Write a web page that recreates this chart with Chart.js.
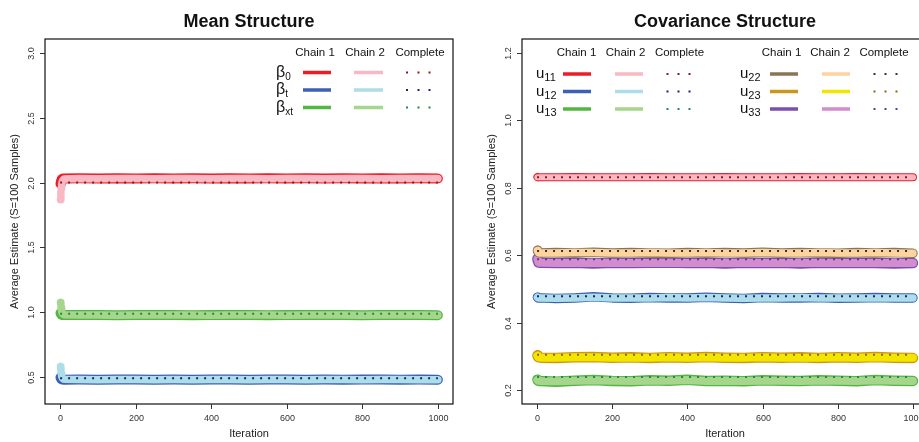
<!DOCTYPE html>
<html>
<head>
<meta charset="utf-8">
<script src="https://cdn.jsdelivr.net/npm/chart.js@4.4.1/dist/chart.umd.min.js"></script>
<style>
  html, body { margin: 0; padding: 0; background: #fff; overflow: hidden; width: 919px; height: 442px; }
  #meanChart { position: absolute; left: 0; top: 0; }
  #covChart { position: absolute; left: 460px; top: 0; }
</style>
</head>
<body>
<canvas id="meanChart" width="460" height="442"></canvas>
<canvas id="covChart" width="480" height="442"></canvas>
<script>
var iterations = [1, 2, 3, 4, 6, 10, 50, 100, 150, 200, 250, 300, 350, 400, 450, 500, 550, 600, 650, 700, 750, 800, 850, 900, 950, 1000];

// mean structure, two chains + complete-data estimate
var beta0Chain1 = [1.990, 2.004, 2.016, 2.024, 2.029, 2.031, 2.032, 2.031, 2.033, 2.031, 2.032, 2.030, 2.032, 2.031, 2.033, 2.031, 2.032, 2.030, 2.032, 2.031, 2.032, 2.031, 2.033, 2.031, 2.032, 2.031];
var beta0Chain2 = [1.867, 1.920, 1.955, 1.985, 2.012, 2.027, 2.030, 2.029, 2.031, 2.030, 2.029, 2.031, 2.030, 2.029, 2.031, 2.030, 2.029, 2.031, 2.030, 2.029, 2.031, 2.030, 2.029, 2.031, 2.030, 2.030];
var betaTChain1 = [0.500, 0.494, 0.489, 0.486, 0.484, 0.483, 0.484, 0.483, 0.484, 0.485, 0.483, 0.484, 0.483, 0.485, 0.484, 0.483, 0.484, 0.485, 0.483, 0.484, 0.483, 0.484, 0.485, 0.483, 0.484, 0.483];
var betaTChain2 = [0.585, 0.560, 0.532, 0.512, 0.496, 0.487, 0.484, 0.483, 0.485, 0.484, 0.482, 0.484, 0.483, 0.484, 0.485, 0.483, 0.484, 0.484, 0.483, 0.485, 0.484, 0.483, 0.484, 0.484, 0.483, 0.483];
var betaXtChain1 = [0.995, 0.990, 0.986, 0.983, 0.981, 0.980, 0.981, 0.980, 0.979, 0.981, 0.980, 0.981, 0.979, 0.980, 0.981, 0.980, 0.979, 0.981, 0.980, 0.980, 0.981, 0.979, 0.980, 0.981, 0.980, 0.979];
var betaXtChain2 = [1.077, 1.058, 1.035, 1.012, 0.993, 0.983, 0.980, 0.981, 0.979, 0.980, 0.981, 0.980, 0.980, 0.979, 0.981, 0.980, 0.981, 0.979, 0.980, 0.981, 0.980, 0.979, 0.981, 0.980, 0.980, 0.979];
var meanComplete = [2.000, 0.495, 0.990];   // beta0, betaT, betaXt

// covariance structure
var u11Chain1 = [0.832, 0.831, 0.831, 0.831, 0.831, 0.831, 0.831, 0.832, 0.831, 0.831, 0.831, 0.832, 0.831, 0.831, 0.831, 0.832, 0.831, 0.831, 0.831, 0.832, 0.831, 0.831, 0.832, 0.831, 0.831, 0.831];
var u11Chain2 = [0.831, 0.831, 0.831, 0.831, 0.831, 0.831, 0.831, 0.831, 0.831, 0.831, 0.831, 0.831, 0.831, 0.831, 0.831, 0.831, 0.831, 0.831, 0.831, 0.831, 0.831, 0.831, 0.831, 0.831, 0.831, 0.831];
var u12Chain1 = [0.476, 0.475, 0.474, 0.474, 0.474, 0.474, 0.472, 0.474, 0.477, 0.474, 0.473, 0.475, 0.474, 0.474, 0.476, 0.474, 0.472, 0.475, 0.474, 0.474, 0.475, 0.473, 0.474, 0.475, 0.474, 0.474];
var u12Chain2 = [0.476, 0.475, 0.475, 0.474, 0.474, 0.474, 0.473, 0.474, 0.476, 0.474, 0.474, 0.474, 0.475, 0.474, 0.475, 0.474, 0.473, 0.474, 0.474, 0.475, 0.474, 0.474, 0.474, 0.474, 0.474, 0.474];
var u13Chain1 = [0.232, 0.230, 0.229, 0.229, 0.228, 0.228, 0.226, 0.229, 0.231, 0.228, 0.227, 0.230, 0.229, 0.232, 0.228, 0.229, 0.227, 0.230, 0.229, 0.228, 0.230, 0.229, 0.227, 0.231, 0.229, 0.228];
var u13Chain2 = [0.231, 0.230, 0.229, 0.229, 0.229, 0.228, 0.227, 0.229, 0.230, 0.229, 0.228, 0.229, 0.229, 0.231, 0.228, 0.229, 0.228, 0.229, 0.229, 0.228, 0.229, 0.229, 0.228, 0.230, 0.229, 0.228];
var u22Chain1 = [0.615, 0.611, 0.609, 0.608, 0.608, 0.607, 0.608, 0.607, 0.609, 0.607, 0.608, 0.607, 0.606, 0.608, 0.607, 0.608, 0.607, 0.609, 0.607, 0.608, 0.607, 0.606, 0.608, 0.607, 0.608, 0.606];
var u22Chain2 = [0.614, 0.611, 0.609, 0.608, 0.607, 0.607, 0.607, 0.608, 0.608, 0.607, 0.607, 0.608, 0.607, 0.607, 0.608, 0.607, 0.607, 0.608, 0.607, 0.607, 0.608, 0.607, 0.607, 0.608, 0.607, 0.606];
var u23Chain1 = [0.304, 0.301, 0.299, 0.298, 0.298, 0.297, 0.296, 0.298, 0.299, 0.297, 0.298, 0.296, 0.298, 0.297, 0.299, 0.297, 0.296, 0.298, 0.297, 0.298, 0.296, 0.298, 0.297, 0.299, 0.297, 0.296];
var u23Chain2 = [0.303, 0.301, 0.299, 0.298, 0.298, 0.297, 0.297, 0.298, 0.298, 0.297, 0.297, 0.297, 0.298, 0.297, 0.298, 0.297, 0.297, 0.298, 0.297, 0.297, 0.297, 0.298, 0.297, 0.298, 0.297, 0.297];
var u33Chain1 = [0.590, 0.584, 0.581, 0.579, 0.578, 0.578, 0.577, 0.578, 0.576, 0.578, 0.577, 0.578, 0.579, 0.577, 0.578, 0.576, 0.578, 0.577, 0.578, 0.576, 0.578, 0.577, 0.578, 0.577, 0.576, 0.577];
var u33Chain2 = [0.589, 0.584, 0.581, 0.579, 0.578, 0.578, 0.577, 0.577, 0.577, 0.578, 0.577, 0.577, 0.578, 0.577, 0.577, 0.577, 0.578, 0.577, 0.577, 0.577, 0.578, 0.577, 0.577, 0.577, 0.577, 0.577];
var covComplete = [0.831, 0.479, 0.240, 0.613, 0.306, 0.588];   // u11, u12, u13, u22, u23, u33

// axis ticks
var iterTicks = [0, 200, 400, 600, 800, 1000];
var meanTicks = ['0.5', '1.0', '1.5', '2.0', '2.5', '3.0'];
var covTicks = ['0.2', '0.4', '0.6', '0.8', '1.0', '1.2'];

var FONT = '"Liberation Sans", Arial, Helvetica, sans-serif';

function trace(values, color, width, order) {
    return {
        data: iterations.map(function (it, i) { return { x: it, y: values[i] }; }),
        borderColor: color,
        borderWidth: width,
        borderCapStyle: 'round',
        borderJoinStyle: 'round',
        pointRadius: 0,
        tension: 0,
        fill: false,
        order: order
    };
}

function completeLine(value, color, order) {
    return {
        data: [{ x: 0, y: value }, { x: 1000, y: value }],
        borderColor: color,
        borderWidth: 2,
        borderDash: [2, 6],
        borderCapStyle: 'butt',
        pointRadius: 0,
        fill: false,
        order: order
    };
}

// stack: list of [chain1, chain2, complete, colours, widths], bottom to top
function buildDatasets(stack) {
    var out = [];
    stack.forEach(function (s) {
        out.push(trace(s[0], s[3][0], s[4][0], -out.length));
        out.push(trace(s[1], s[3][1], s[4][1], -out.length));
        out.push(completeLine(s[2], s[3][2], -out.length));
    });
    return out;
}

function drawSymbol(ctx, x, y, sym, sub, symSize, subSize) {
    ctx.fillStyle = '#111';
    ctx.textAlign = 'left';
    ctx.textBaseline = 'alphabetic';
    ctx.font = symSize + 'px ' + FONT;
    ctx.fillText(sym, x, y);
    var w = ctx.measureText(sym).width;
    ctx.font = subSize + 'px ' + FONT;
    ctx.fillText(sub, x + w, y + 3);
}

// R-style frame: box, outward ticks, vertical y labels, titles and the legend
var rFrame = {
    id: 'rFrame',
    afterDraw: function (chart, args, o) {
        var ctx = chart.ctx, a = chart.chartArea;
        var xs = chart.scales.x, ys = chart.scales.y;
        ctx.save();

        ctx.strokeStyle = '#111';
        ctx.lineWidth = 1.2;
        ctx.strokeRect(a.left, a.top, a.right - a.left, a.bottom - a.top);

        ctx.strokeStyle = '#333';
        ctx.lineWidth = 1;
        ctx.fillStyle = '#333';
        ctx.font = '9px ' + FONT;
        iterTicks.forEach(function (t) {
            var px = Math.round(xs.getPixelForValue(t)) + 0.5;
            ctx.beginPath();
            ctx.moveTo(px, a.bottom);
            ctx.lineTo(px, a.bottom + 5);
            ctx.stroke();
            ctx.textAlign = 'center';
            ctx.textBaseline = 'middle';
            ctx.fillText(String(t), px, 419);
        });
        o.yTicks.forEach(function (t) {
            var py = Math.round(ys.getPixelForValue(parseFloat(t))) + 0.5;
            ctx.beginPath();
            ctx.moveTo(a.left, py);
            ctx.lineTo(a.left - 5, py);
            ctx.stroke();
            ctx.save();
            ctx.translate(a.left - 13, py);
            ctx.rotate(-Math.PI / 2);
            ctx.textAlign = 'center';
            ctx.textBaseline = 'middle';
            ctx.fillText(t, 0, 0);
            ctx.restore();
        });

        var cx = (a.left + a.right) / 2;
        ctx.fillStyle = '#111';
        ctx.textAlign = 'center';
        ctx.textBaseline = 'middle';
        ctx.font = 'bold 18px ' + FONT;
        ctx.fillText(o.title, cx, 22);
        ctx.font = '11px ' + FONT;
        ctx.fillStyle = '#222';
        ctx.fillText('Iteration', cx, 434);
        ctx.save();
        ctx.translate(a.left - 30, (a.top + a.bottom) / 2);
        ctx.rotate(-Math.PI / 2);
        ctx.fillText('Average Estimate (S=100 Samples)', 0, 0);
        ctx.restore();

        // legend
        ctx.font = '11.5px ' + FONT;
        ctx.fillStyle = '#111';
        o.legend.headers.forEach(function (h) {
            ctx.textAlign = 'center';
            ctx.textBaseline = 'middle';
            ctx.fillText(h[0], h[1], 52.5);
        });
        o.legend.rows.forEach(function (r) {
            drawSymbol(ctx, r.x, r.y + 4, r.sym, r.sub, o.legend.symSize, o.legend.subSize);
            ctx.lineCap = 'butt';
            ctx.lineWidth = 3.5;
            ctx.strokeStyle = r.colors[0];
            ctx.beginPath(); ctx.moveTo(r.l1[0], r.y); ctx.lineTo(r.l1[1], r.y); ctx.stroke();
            ctx.strokeStyle = r.colors[1];
            ctx.beginPath(); ctx.moveTo(r.l2[0], r.y); ctx.lineTo(r.l2[1], r.y); ctx.stroke();
            ctx.fillStyle = r.colors[2];
            r.dots.forEach(function (d) { ctx.fillRect(d - 1, r.y - 1, 2, 2); });
        });
        ctx.restore();
    }
};

function makeChart(id, datasets, yMin, yMax, pad, frame) {
    return new Chart(document.getElementById(id), {
        type: 'line',
        data: { datasets: datasets },
        options: {
            responsive: false,
            animation: false,
            devicePixelRatio: 1,
            layout: { padding: pad },
            scales: {
                x: { type: 'linear', min: -40, max: 1040, display: false },
                y: { type: 'linear', min: yMin, max: yMax, display: false }
            },
            plugins: { legend: { display: false }, tooltip: { enabled: false }, rFrame: frame }
        },
        plugins: [rFrame]
    });
}

var red = ['#ee1c25', '#f8b9c4', '#8b1a1a'];
var blue = ['#3d5fb4', '#addde8', '#1f1f78'];
var green = ['#52b641', '#a6d58c', '#23894a'];
var brown = ['#8b7355', '#fdd39e', '#333333'];
var gold = ['#d09418', '#f2e500', '#8b6508'];
var purple = ['#7c4fae', '#d38ccd', '#5a3a98'];

makeChart('meanChart', buildDatasets([
    [betaTChain1, betaTChain2, meanComplete[1], blue, [10, 7.5]],
    [betaXtChain1, betaXtChain2, meanComplete[2], green, [10, 7.5]],
    [beta0Chain1, beta0Chain2, meanComplete[0], red, [10, 7.5]]
]), 0.296, 3.104, { left: 45, right: 7, top: 39, bottom: 38 }, {
    title: 'Mean Structure',
    yTicks: meanTicks,
    legend: {
        symSize: 16, subSize: 10,
        headers: [['Chain 1', 315], ['Chain 2', 365], ['Complete', 420]],
        rows: [
            { sym: 'β', sub: '0', x: 276, y: 72.5, colors: red, l1: [303, 331], l2: [354, 383], dots: [407, 418.5, 429.5] },
            { sym: 'β', sub: 't', x: 276, y: 90, colors: blue, l1: [303, 331], l2: [354, 383], dots: [407, 418.5, 429.5] },
            { sym: 'β', sub: 'xt', x: 276, y: 107.5, colors: green, l1: [303, 331], l2: [354, 383], dots: [407, 418.5, 429.5] }
        ]
    }
});

makeChart('covChart', buildDatasets([
    [u13Chain1, u13Chain2, covComplete[2], green, [10.5, 8]],
    [u23Chain1, u23Chain2, covComplete[4], gold, [10.5, 8]],
    [u12Chain1, u12Chain2, covComplete[1], blue, [9.5, 7.5]],
    [u33Chain1, u33Chain2, covComplete[5], purple, [10.5, 8]],
    [u22Chain1, u22Chain2, covComplete[3], brown, [9.5, 7.5]],
    [u11Chain1, u11Chain2, covComplete[0], red, [8, 6]]
]), 0.16, 1.24, { left: 62, right: 12, top: 39, bottom: 38 }, {
    title: 'Covariance Structure',
    yTicks: covTicks,
    legend: {
        symSize: 15, subSize: 11,
        headers: [['Chain 1', 116.5], ['Chain 2', 165.5], ['Complete', 219.5], ['Chain 1', 321.5], ['Chain 2', 370], ['Complete', 424]],
        rows: [
            { sym: 'u', sub: '11', x: 76, y: 74, colors: red, l1: [103, 131], l2: [155, 183], dots: [207.5, 218.5, 229.5] },
            { sym: 'u', sub: '12', x: 76, y: 91.5, colors: blue, l1: [103, 131], l2: [155, 183], dots: [207.5, 218.5, 229.5] },
            { sym: 'u', sub: '13', x: 76, y: 109, colors: green, l1: [103, 131], l2: [155, 183], dots: [207.5, 218.5, 229.5] },
            { sym: 'u', sub: '22', x: 280, y: 74, colors: brown, l1: [310, 338], l2: [362, 390], dots: [414.5, 425.5, 436.5] },
            { sym: 'u', sub: '23', x: 280, y: 91.5, colors: gold, l1: [310, 338], l2: [362, 390], dots: [414.5, 425.5, 436.5] },
            { sym: 'u', sub: '33', x: 280, y: 109, colors: purple, l1: [310, 338], l2: [362, 390], dots: [414.5, 425.5, 436.5] }
        ]
    }
});
</script>
</body>
</html>
